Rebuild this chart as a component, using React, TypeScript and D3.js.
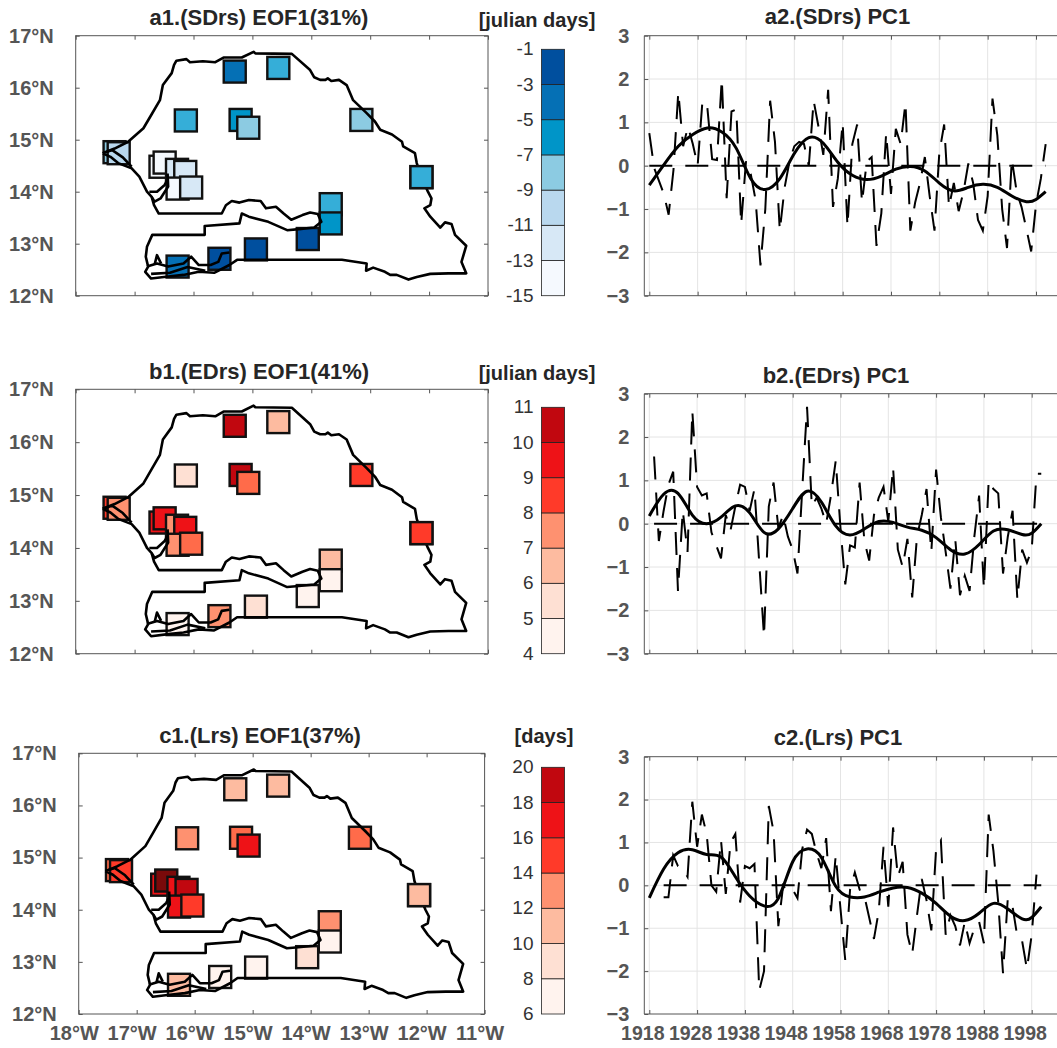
import React, { useEffect, useRef } from "react";
import * as d3 from "d3";

// station positions (lon, lat) in drawing order
const stationLon = [-15.3, -14.56, -16.13, -15.2, -15.07, -13.15, -12.13, -17.34, -17.27, -16.56, -16.49, -16.28, -16.14, -16.27, -16.04, -13.67, -13.67, -14.06, -14.94, -15.56, -16.27];
const stationLat = [16.31, 16.38, 15.37, 15.38, 15.23, 15.38, 14.28, 14.76, 14.74, 14.48, 14.56, 14.42, 14.38, 14.06, 14.08, 13.76, 13.39, 13.09, 12.89, 12.71, 12.56];
// this one sits over the border line in the original
const stationOnTop = 6;

// EOF1 loadings per station
const eofA = [-4, -6.5, -6.5, -5.5, -8, -8, -6.5, -8, -10, -14, -14, -12, -12, -14, -12, -6.5, -5.5, -2, -2, -2, -4];
const eofB = [10.4, 6.4, 5.5, 10.4, 7.8, 8.5, 8.5, 8.5, 7.3, 9.5, 9.5, 7.3, 9.5, 7.4, 7.8, 6.4, 4.5, 4.5, 5.5, 7.3, 4.5];
const eofC = [11, 11, 13, 13.8, 17, 13.8, 11, 13.8, 15, 17, 19.8, 17, 18.8, 17, 15, 13, 7, 9, 7, 7, 11];

const ticksA = [-15, -13, -11, -9, -7, -5, -3, -1];
const ticksB = [4, 5, 6, 7, 8, 9, 10, 11];
const ticksC = [6, 8, 10, 12, 14, 16, 18, 20];

const colorsA = ["#f5f9fe", "#d7e8f6", "#b9d8ee", "#8ccbe2", "#35aed8", "#0095c8", "#0570b5", "#004f9e"];
const breaksA = [-13, -11, -9, -7, -6, -5, -3];
const colorsB = ["#fff3ee", "#fee0d3", "#fdbba0", "#fe9170", "#ff6b4a", "#ff3a29", "#ee1217", "#c1070f"];
const breaksB = [5, 6, 7, 7.6, 8, 9, 10];
const colorsC = ["#fff3ee", "#fee0d3", "#fdbba0", "#fe9170", "#ff6b4a", "#ff3a29", "#ee1217", "#c1070f", "#7a0a0a"];
const breaksC = [8, 10, 12, 13.5, 14, 16, 18, 19.5];

// country outline, lon/lat
const border: [number, number][] = [
  [-17.54, 14.74], [-17.34, 14.83], [-17.11, 14.96], [-16.85, 15.22], [-16.72, 15.47], [-16.57, 15.76], [-16.52, 16.05], [-16.37, 16.28],
  [-16.33, 16.44], [-16.29, 16.52], [-16.12, 16.55], [-16.06, 16.49], [-15.84, 16.51], [-15.63, 16.49], [-15.49, 16.58], [-15.18, 16.58],
  [-14.98, 16.69], [-14.95, 16.66], [-14.33, 16.65], [-14.02, 16.34], [-13.95, 16.2], [-13.85, 16.15], [-13.76, 16.15], [-13.72, 16.18],
  [-13.66, 16.13], [-13.53, 16.15], [-13.4, 16.05], [-13.29, 15.76], [-13.06, 15.51], [-12.92, 15.35], [-12.83, 15.19], [-12.63, 15.1],
  [-12.46, 14.96], [-12.44, 14.87], [-12.24, 14.74], [-12.21, 14.55], [-12.13, 14.29], [-12.02, 14.0], [-11.96, 13.87], [-11.98, 13.74],
  [-12.08, 13.68], [-11.98, 13.52], [-11.81, 13.31], [-11.73, 13.41], [-11.62, 13.38], [-11.56, 13.17], [-11.37, 12.96], [-11.45, 12.65],
  [-11.37, 12.43], [-11.67, 12.43], [-11.98, 12.42], [-12.21, 12.36], [-12.35, 12.31], [-12.55, 12.4], [-12.66, 12.4], [-12.75, 12.46],
  [-12.95, 12.54], [-13.07, 12.48], [-13.06, 12.62], [-13.48, 12.69], [-15.26, 12.69], [-15.39, 12.59], [-15.65, 12.44], [-15.91, 12.46],
  [-16.17, 12.4], [-16.43, 12.37], [-16.72, 12.33], [-16.82, 12.46], [-16.77, 12.56], [-16.81, 12.75], [-16.79, 12.94], [-16.7, 13.17],
  [-15.81, 13.17], [-15.81, 13.34], [-15.22, 13.39], [-15.18, 13.58], [-15.06, 13.52], [-14.73, 13.42], [-14.41, 13.26], [-14.21, 13.28],
  [-13.95, 13.31], [-13.83, 13.42], [-13.89, 13.57], [-14.02, 13.6], [-14.15, 13.55], [-14.34, 13.46], [-14.47, 13.58], [-14.6, 13.71],
  [-14.77, 13.68], [-14.86, 13.82], [-15.06, 13.84], [-15.22, 13.79], [-15.35, 13.82], [-15.45, 13.74], [-15.52, 13.58], [-16.59, 13.58],
  [-16.67, 13.74], [-16.71, 13.9], [-16.79, 14.0], [-16.92, 14.29], [-17.05, 14.45], [-17.28, 14.55], [-17.41, 14.67], [-17.54, 14.74],
];
const casamance: [number, number][] = [[-16.79, 12.56], [-16.62, 12.62], [-16.43, 12.56], [-16.17, 12.62], [-16.04, 12.75], [-15.91, 12.59], [-15.71, 12.59], [-15.58, 12.65], [-15.52, 12.81], [-15.39, 12.83]];
const casamanceArm: [number, number][] = [[-16.66, 12.6], [-16.62, 12.78], [-16.55, 12.62]];
const casamanceSouth: [number, number][] = [[-16.72, 12.42], [-16.4, 12.44], [-16.1, 12.55], [-15.8, 12.48]];
const saloum: [number, number][] = [[-16.71, 13.9], [-16.66, 13.81], [-16.56, 13.87], [-16.43, 14.1], [-16.44, 14.35]];
const saloumArm: [number, number][] = [[-16.75, 14.0], [-16.62, 14.0], [-16.49, 14.13], [-16.45, 14.22]];
const capVert: [number, number][] = [[-17.54, 14.74], [-17.38, 14.8], [-17.2, 14.66], [-17.05, 14.48]];
const waters = [casamance, casamanceArm, casamanceSouth, saloum, saloumArm, capVert];

// annual PC1, first year differs per panel
const pcAStart = 1918;
const pcA = [0.75, -0.05, -0.35, -0.65, -1.13, -0.1, 1.7, 0.45, 0.9, 0.5, 0, 1.5, 1.35, 0.15, 0.13, 2, -0.75, 1.25, 1.3, -1.35, 0.1, -0.2, -0.8, -2.3, -1, 1.5, 0.55, -1.5, -0.5, 0.1, 0.45, 0.55, 0.5, 0, 1.5, 0.9, 0.25, 1.75, -0.95, -0.3, 1, -1.4, 0.5, 0.95, -0.85, 0.1, 0.2, -1.85, -1.1, 0.75, -0.65, 0.85, 0.5, 1.45, -1.5, -0.85, -0.4, 0.2, -0.7, -1.5, 0.3, 0.95, -0.95, -0.4, -1.05, -0.6, 0.05, -0.4, -1.25, -1.5, -0.7, 1.55, 0.7, -1, -1.9, 0.15, -0.6, -0.95, -1.45, -1.98, -0.9, -0.3, 0.5];
const pcBStart = 1919;
const pcB = [1.55, -0.4, 0.3, 0.9, 1.2, -1.55, 0.3, -0.65, 2.6, 0.85, 0.65, 0.7, -0.2, -0.5, -0.8, 0.2, -0.15, 0.4, 0.9, 0.85, 0.3, 0.8, -0.9, -2.6, 0.4, 0.95, -0.1, 0.2, -0.3, -0.6, -1.15, 0.8, 2.7, 0.4, 0.6, 0.35, 0, 0.65, 1.45, -0.1, -1.4, -0.5, -0.55, 0.95, -0.4, -0.85, 0.2, 0.6, 0.85, 0.05, 1.3, -0.6, -1, -0.35, -1.7, -0.3, 0.2, 0.8, -0.65, 1.25, 0.15, -0.65, -1.5, -0.35, -1.65, -1.2, -1.55, -0.3, 0.65, -1.5, 1, 0.8, 0.7, -1.15, -0.3, 0.3, -1.75, -0.6, -0.9, -0.6, 1.15, 1.15];
const pcCStart = 1921;
const pcC = [-0.28, -0.28, 0.7, 0.45, 0.4, 0.2, 1.95, 0.9, 1.65, 1.2, 0, -0.15, 1.05, -0.2, 1, 1.2, -0.4, 0.45, 0.4, 0.5, -2.45, -2, 1.85, 1.25, -0.95, 0, -0.15, -0.1, -0.3, 0.85, 1.3, 1.2, 0.75, 0.4, 1.1, -0.6, 0.7, -0.55, -1.75, -0.1, 0.3, -0.1, -0.25, -0.75, -1.25, -0.6, 0.9, -0.5, 1.35, 0.2, 0.55, -1.15, -1.6, -0.7, 0.15, -0.35, -1.05, 0.85, 1.05, -1.15, -0.7, -0.95, -1.4, -0.85, -1.35, -1, -0.85, -1.35, 1.65, 0.8, -0.4, -2.05, -0.3, -0.5, -1.2, -1.3, -1.95, -1.15, 0.25];

// low-pass curve, read every three years and at the end
const smoothYears = [1918, 1921, 1924, 1927, 1930, 1933, 1936, 1939, 1942, 1945, 1948, 1951, 1954, 1957, 1960, 1963, 1966, 1969, 1972, 1975, 1978, 1981, 1984, 1987, 1990, 1993, 1996, 1998, 2000];
const smoothA = [-0.45, 0.02, 0.45, 0.72, 0.87, 0.78, 0.4, -0.3, -0.55, -0.3, 0.28, 0.65, 0.52, 0.08, -0.22, -0.32, -0.24, -0.08, -0.02, -0.12, -0.4, -0.58, -0.5, -0.43, -0.5, -0.7, -0.83, -0.78, -0.6];
const smoothB = [0.18, 0.68, 0.7, 0.2, 0, 0.15, 0.41, 0.25, -0.2, -0.12, 0.35, 0.75, 0.5, -0.05, -0.26, -0.12, 0.05, 0.03, -0.08, -0.15, -0.32, -0.6, -0.7, -0.48, -0.17, -0.14, -0.25, -0.22, 0];
const smoothC = [-0.29, 0.38, 0.76, 0.83, 0.72, 0.66, 0.2, -0.25, -0.48, -0.3, 0.55, 0.85, 0.65, -0.02, -0.27, -0.27, -0.16, -0.06, -0.05, -0.18, -0.42, -0.72, -0.82, -0.65, -0.42, -0.55, -0.78, -0.75, -0.5];

const lonTicks = [-18, -17, -16, -15, -14, -13, -12, -11];
const latTicks = [12, 13, 14, 15, 16, 17];
const pcTicks = [-3, -2, -1, 0, 1, 2, 3];
const yearTicks = [1918, 1928, 1938, 1948, 1958, 1968, 1978, 1988, 1998];

const FONT = "'Liberation Sans', Arial, sans-serif";
const AXIS_GREY = "#555";

function drawMap(svg: any, o: any) {
  const x = d3.scaleLinear().domain([-18, -11]).range([o.left, o.right]);
  const y = d3.scaleLinear().domain([12, 17]).range([o.bottom, o.top]);
  const color = d3.scaleThreshold<number, string>().domain(o.breaks).range(o.colors);
  const g = svg.append("g");

  const square = (sel: any, idx: (i: number) => number) =>
    sel.attr("x", (_: number, i: number) => x(stationLon[idx(i)]) - 11)
      .attr("y", (_: number, i: number) => y(stationLat[idx(i)]) - 11)
      .attr("width", 22).attr("height", 22)
      .attr("fill", (d: number) => color(d))
      .attr("stroke", "#111").attr("stroke-width", 2.4);

  // stations
  square(g.selectAll("rect.st").data(o.values).enter().append("rect"), (i) => i);

  const line = d3.line();
  const proj = (pts: [number, number][]) => pts.map((p) => [x(p[0]), y(p[1])] as [number, number]);
  [border, ...waters].forEach((pts) => {
    g.append("path").attr("d", line(proj(pts))).attr("fill", "none")
      .attr("stroke", "#000").attr("stroke-width", 2.6).attr("stroke-linejoin", "round");
  });

  square(g.selectAll("rect.top").data([o.values[stationOnTop]]).enter().append("rect"), () => stationOnTop);

  // frame
  g.append("rect").attr("x", o.left).attr("y", o.top).attr("width", o.right - o.left).attr("height", o.bottom - o.top)
    .attr("fill", "none").attr("stroke", AXIS_GREY).attr("stroke-width", 1);

  const fmtLat = (d: number) => `${d}°N`;
  const left = g.append("g").attr("transform", `translate(${o.left},0)`)
    .call(d3.axisLeft(y).tickValues(latTicks).tickSize(-4).tickPadding(22).tickFormat(fmtLat as any));
  const right = g.append("g").attr("transform", `translate(${o.right},0)`)
    .call(d3.axisRight(y).tickValues(latTicks).tickSize(-4).tickFormat(() => ""));
  const bottom = g.append("g").attr("transform", `translate(0,${o.bottom})`)
    .call(d3.axisBottom(x).tickValues(lonTicks).tickSize(-4).tickPadding(12).tickFormat(o.showLon ? ((d: number) => `${-d}°W`) as any : () => ""));
  const top = g.append("g").attr("transform", `translate(0,${o.top})`)
    .call(d3.axisTop(x).tickValues(lonTicks).tickSize(-4).tickFormat(() => ""));
  [left, right, bottom, top].forEach((a) => {
    a.select(".domain").remove();
    a.selectAll("line").attr("stroke", AXIS_GREY);
    a.selectAll("text").attr("font-family", FONT).attr("font-weight", "bold").attr("font-size", 20).attr("fill", AXIS_GREY);
  });
  bottom.selectAll("text").attr("dx", -5);

  // colour bar
  const cb = d3.scaleLinear().domain(d3.extent(o.ticks) as [number, number]).range([o.bottom, o.barTop]);
  const bins = d3.pairs(o.ticks as number[]);
  g.selectAll("rect.bin").data(bins).enter().append("rect")
    .attr("x", o.barLeft).attr("width", 23)
    .attr("y", (d: number[]) => cb(d[1]))
    .attr("height", (d: number[]) => cb(d[0]) - cb(d[1]))
    .attr("fill", (d: number[]) => color((d[0] + d[1]) / 2))
    .attr("stroke", "#222").attr("stroke-width", 0.8);
  g.selectAll("text.cb").data(o.ticks).enter().append("text")
    .attr("x", o.barLeft - 8).attr("y", (d: number) => cb(d) + 6)
    .attr("text-anchor", "end").attr("font-family", FONT).attr("font-size", 19).attr("fill", "#333")
    .text((d: number) => d);

  g.append("text").attr("x", o.titleX).attr("y", o.titleY).attr("text-anchor", "middle")
    .attr("font-family", FONT).attr("font-weight", "bold").attr("font-size", 22).attr("fill", "#262626").text(o.title);
  g.append("text").attr("x", o.unitX).attr("y", o.unitY).attr("text-anchor", "middle")
    .attr("font-family", FONT).attr("font-weight", "bold").attr("font-size", 20).attr("fill", "#262626").text(o.unit);
}

function drawPc(svg: any, o: any) {
  const x = d3.scaleLinear().domain([1918, 1998]).range([o.x0, o.x1]);
  const y = d3.scaleLinear().domain([-3, 3]).range([o.bottom, o.top]);
  const right = 1060;
  const g = svg.append("g");

  g.selectAll("line.gx").data(yearTicks).enter().append("line")
    .attr("x1", (d: number) => x(d)).attr("x2", (d: number) => x(d)).attr("y1", o.top).attr("y2", o.bottom)
    .attr("stroke", "#e4e4e4").attr("stroke-width", 1);
  g.selectAll("line.gy").data(pcTicks.slice(1, -1)).enter().append("line")
    .attr("x1", 644).attr("x2", right).attr("y1", (d: number) => y(d)).attr("y2", (d: number) => y(d))
    .attr("stroke", "#e4e4e4").attr("stroke-width", 1);

  const left = g.append("g").attr("transform", "translate(644.3,0)")
    .call(d3.axisLeft(y).tickValues(pcTicks).tickSize(-4).tickPadding(15).tickFormat(d3.format("d") as any));
  const bottom = g.append("g").attr("transform", `translate(0,${o.bottom})`)
    .call(d3.axisBottom(x).tickValues(yearTicks).tickSize(-4).tickPadding(12).tickFormat(o.showYears ? (d3.format("d") as any) : () => ""));
  const top = g.append("g").attr("transform", `translate(0,${o.top})`)
    .call(d3.axisTop(x).tickValues(yearTicks).tickSize(-4).tickFormat(() => ""));
  [left, bottom, top].forEach((a) => {
    a.select(".domain").remove();
    a.selectAll("line").attr("stroke", AXIS_GREY);
    a.selectAll("text").attr("font-family", FONT).attr("font-weight", "bold").attr("font-size", 20).attr("fill", AXIS_GREY);
  });
  bottom.selectAll("text").attr("font-size", 19.5).attr("dx", -7);
  g.append("path").attr("d", `M644.3,${o.bottom}V${o.top}H${right}M644.3,${o.bottom}H${right}`)
    .attr("fill", "none").attr("stroke", AXIS_GREY).attr("stroke-width", 1);

  const dash = "23 13";
  g.append("line").attr("x1", x(o.start)).attr("x2", x(2000)).attr("y1", y(0)).attr("y2", y(0))
    .attr("stroke", "#000").attr("stroke-width", 2).attr("stroke-dasharray", dash);

  const annual = d3.line<number>().x((_, i) => x(o.start + i)).y((d) => y(d));
  g.append("path").attr("d", annual(o.values)).attr("fill", "none")
    .attr("stroke", "#000").attr("stroke-width", 2).attr("stroke-dasharray", dash);

  const smooth = d3.line<number>().x((_, i) => x(smoothYears[i])).y((d) => y(d)).curve(d3.curveNatural);
  g.append("path").attr("d", smooth(o.smooth)).attr("fill", "none")
    .attr("stroke", "#000").attr("stroke-width", 3);

  g.append("text").attr("x", o.titleX).attr("y", o.titleY).attr("text-anchor", "middle")
    .attr("font-family", FONT).attr("font-weight", "bold").attr("font-size", 22).attr("fill", "#262626").text(o.title);
}

export default function App() {
  const svgRef = useRef<SVGSVGElement>(null);

  useEffect(() => {
    const svg = d3.select(svgRef.current);
    svg.selectAll("*").remove();

    drawMap(svg, { left: 75.7, right: 488, top: 35.7, bottom: 295.7, barLeft: 541.5, barTop: 49.3, values: eofA, colors: colorsA, breaks: breaksA, ticks: ticksA, title: "a1.(SDrs) EOF1(31%)", titleX: 259, titleY: 25, unit: "[julian days]", unitX: 537, unitY: 27 });
    drawMap(svg, { left: 75.7, right: 488, top: 389.3, bottom: 653.7, barLeft: 541.5, barTop: 407.3, values: eofB, colors: colorsB, breaks: breaksB, ticks: ticksB, title: "b1.(EDrs) EOF1(41%)", titleX: 259, titleY: 379, unit: "[julian days]", unitX: 537, unitY: 380 });
    drawMap(svg, { left: 78.7, right: 484.6, top: 753.3, bottom: 1014, barLeft: 541.5, barTop: 767.3, values: eofC, colors: colorsC, breaks: breaksC, ticks: ticksC, title: "c1.(Lrs) EOF1(37%)", titleX: 260, titleY: 743, unit: "[days]", unitX: 544, unitY: 743, showLon: true });

    drawPc(svg, { x0: 649.3, x1: 1036, top: 35.7, bottom: 295.7, start: pcAStart, values: pcA, smooth: smoothA, title: "a2.(SDrs) PC1", titleX: 837.5, titleY: 24 });
    drawPc(svg, { x0: 649.3, x1: 1031.7, top: 393.7, bottom: 653.7, start: pcBStart, values: pcB, smooth: smoothB, title: "b2.(EDrs) PC1", titleX: 836, titleY: 382.7 });
    drawPc(svg, { x0: 649.3, x1: 1031.7, top: 756.7, bottom: 1014, start: pcCStart, values: pcC, smooth: smoothC, title: "c2.(Lrs) PC1", titleX: 838, titleY: 745, showYears: true });
  }, []);

  return (
    <svg ref={svgRef} width={1057} height={1048} style={{ position: "absolute", left: 0, top: 0, background: "#fff" }} />
  );
}
